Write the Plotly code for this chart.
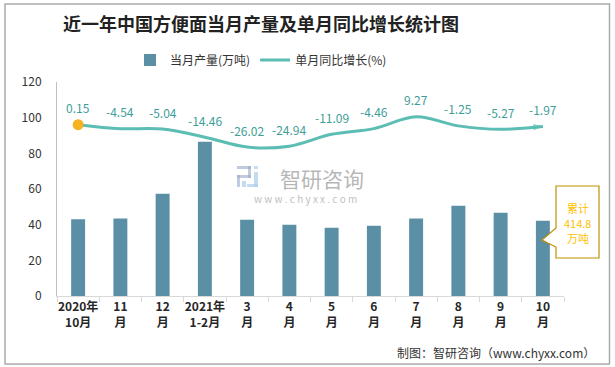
import plotly.graph_objects as go

categories = ["2020年<br>10月", "11<br>月", "12<br>月", "2021年<br>1-2月", "3<br>月", "4<br>月",
              "5<br>月", "6<br>月", "7<br>月", "8<br>月", "9<br>月", "10<br>月"]
output_wt = [43.0, 43.4, 57.4, 86.5, 42.8, 40.0, 38.3, 39.4, 43.4, 50.6, 46.7, 42.2]
yoy_pct = [0.15, -4.54, -5.04, -14.46, -26.02, -24.94, -11.09, -4.46, 9.27, -1.25, -5.27, -1.97]
y_ticks = [0, 20, 40, 60, 80, 100, 120]
cumulative_lines = ["累计", "414.8", "万吨"]

FONT = "Noto Sans CJK SC, Noto Sans, sans-serif"
BAR_C = "#5B8FA6"
LINE_C = "#5BBDB3"
LABEL_C = "#3E9E98"

# plot area in pixels
L, R, T, B = 57, 564, 82, 296
W, H = 615, 367
def px(x):
    return (x - L) / (R - L)
def py(y):
    return (B - y) / (B - T)

fig = go.Figure()
fig.add_trace(go.Bar(x=categories, y=output_wt, name="当月产量(万吨)", marker_color=BAR_C,
                     marker_line_width=0))
fig.add_trace(go.Scatter(x=categories, y=yoy_pct, name="单月同比增长(%)", yaxis="y2",
                         mode="lines", line=dict(color=LINE_C, width=3, shape="spline", smoothing=1)))
fig.add_trace(go.Scatter(x=[categories[0]], y=[yoy_pct[0]], yaxis="y2", mode="markers",
                         marker=dict(color="#F5B324", size=11, symbol="circle"), showlegend=False,
                         hoverinfo="skip"))
fig.add_trace(go.Scatter(x=categories[-2:], y=yoy_pct[-2:], yaxis="y2", mode="markers",
                         marker=dict(color=LINE_C, size=[0, 10], symbol="arrow", angleref="previous",
                                     line_width=0),
                         showlegend=False, hoverinfo="skip"))

annotations = []
for c, v in zip(categories, yoy_pct):
    annotations.append(dict(x=c, y=v, xref="x", yref="y2", text=f"{v:.2f}", showarrow=False,
                            yshift=17, font=dict(family=FONT, size=12, color=LABEL_C)))

for i, t in enumerate(cumulative_lines):
    annotations.append(dict(x=px(577.5), y=py(207 + 15 * i), xref="paper", yref="paper", text=t,
                            showarrow=False, font=dict(family=FONT, size=11, color="#FFC000"),
                            xanchor="center", yanchor="middle", height=13, valign="middle"))
annotations.append(dict(x=px(597), y=py(353), xref="paper", yref="paper", xanchor="right",
                        yanchor="middle", text="制图：智研咨询（www.chyxx.com）", showarrow=False,
                        font=dict(family=FONT, size=12, color="#333333")))
annotations.append(dict(x=px(322), y=py(178), xref="paper", yref="paper", text="智研咨询",
                        xanchor="center", showarrow=False,
                        font=dict(family=FONT, size=21, color="rgba(150,150,150,0.7)")))
annotations.append(dict(x=px(305), y=py(198), xref="paper", yref="paper", xanchor="center",
                        text="w w w . c h y x x . c o m", showarrow=False,
                        font=dict(family=FONT, size=10, color="rgba(160,160,160,0.7)")))

shapes = []
shapes.append(dict(type="rect", xref="paper", yref="paper", x0=px(5), x1=px(609.5), y0=py(364),
                   y1=py(4), line=dict(color="#AAAAAA", width=1.5), fillcolor="rgba(0,0,0,0)",
                   layer="below"))
pts = [(556, 186), (599, 186), (599, 258), (556, 258), (556, 247), (542, 240), (556, 228)]
path = "M " + " L ".join(f"{px(x)},{py(y)}" for x, y in pts) + " Z"
shapes.append(dict(type="path", xref="paper", yref="paper", path=path, fillcolor="white",
                   line=dict(color="#BF9000", width=1.2), layer="above"))
logo = [((237, 166), (251, 169), "rgba(150,170,200,0.6)"), ((248, 166), (251, 178), "rgba(150,170,200,0.6)"),
        ((237, 175), (251, 178), "rgba(150,170,200,0.6)"), ((237, 175), (240, 187), "rgba(150,170,200,0.6)"),
        ((242, 181), (246, 187), "rgba(170,205,235,0.7)"), ((254, 166), (258, 169), "rgba(170,205,235,0.7)"),
        ((254, 172), (258, 187), "rgba(170,205,235,0.7)"), ((247, 184), (258, 187), "rgba(170,205,235,0.7)")]
for (x0, y0), (x1, y1), col in logo:
    shapes.append(dict(type="rect", xref="paper", yref="paper", x0=px(x0), x1=px(x1), y0=py(y1),
                       y1=py(y0), fillcolor=col, line_width=0, layer="below"))

fig.update_layout(
    width=W, height=H,
    margin=dict(l=L, r=W - R, t=T, b=H - B, autoexpand=False),
    paper_bgcolor="white", plot_bgcolor="white",
    font=dict(family=FONT, size=12, color="#333333"),
    title=dict(text="<b>近一年中国方便面当月产量及单月同比增长统计图</b>", x=261 / W, xanchor="center",
               y=1 - 25 / H, yanchor="middle", font=dict(family=FONT, size=18, color="#222222")),
    legend=dict(orientation="h", x=px(261), xanchor="center", y=py(60), yanchor="middle",
                font=dict(family=FONT, size=12, color="#333333"), itemwidth=30,
                bgcolor="rgba(0,0,0,0)"),
    bargap=0.67,
    xaxis=dict(type="category", range=[-0.5, len(categories) - 0.5], showline=True,
               linecolor="#D9D9D9", linewidth=1, ticks="outside",
               tickson="boundaries", ticklen=5, tickcolor="#D9D9D9", showgrid=False, tickangle=0,
               automargin=False,
               tickfont=dict(family=FONT, size=12, color="#262626", weight="bold")),
    yaxis=dict(range=[0, 120], tickvals=y_ticks, showline=True, linecolor="#BFBFBF", linewidth=1,
               showgrid=False, zeroline=False, ticks="outside", ticklen=12, tickcolor="rgba(0,0,0,0)",
               automargin=False, tickfont=dict(family=FONT, size=12, color="#333333")),
    yaxis2=dict(range=[-200, 50], overlaying="y", side="right", visible=False, showgrid=False,
                zeroline=False),
    annotations=annotations,
    shapes=shapes,
    showlegend=True,
)

fig.write_html("out.html", config={"displayModeBar": False},
               post_script="document.body.style.margin='0';")
